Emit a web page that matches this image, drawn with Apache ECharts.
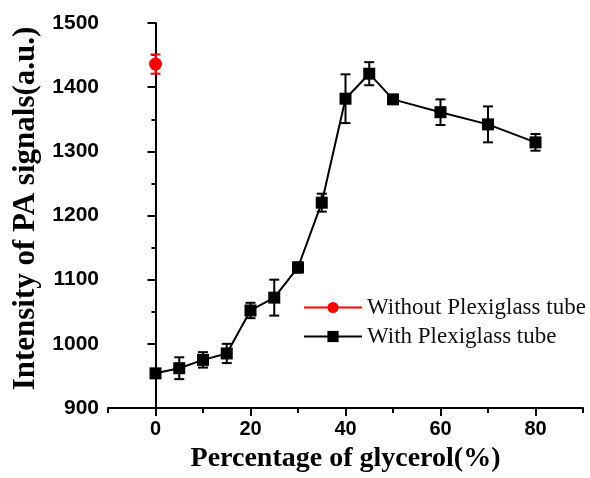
<!DOCTYPE html>
<html>
<head>
<meta charset="utf-8">
<script src="https://cdn.jsdelivr.net/npm/echarts@6/dist/echarts.min.js"></script>
<style>
  html, body { margin: 0; padding: 0; background: #fff; }
  #chart { width: 590px; height: 478px; }
</style>
</head>
<body>
<div id="chart"></div>
<script>
  // glycerol percentages
  const withX = [0, 5, 10, 15, 20, 25, 30, 35, 40, 45, 50, 60, 70, 80]
  const withY = [954, 962, 975, 985, 1052, 1072, 1119, 1220, 1382, 1421, 1381, 1361, 1342, 1314]
  const withErr = [5, 17, 12, 15, 12, 28, 8, 14, 38, 18, 6, 20, 28, 13]
  const withoutX = [0]
  const withoutY = [1436]
  const withoutErr = [15]
  const xLabels = [0, 20, 40, 60, 80]
  const xMinor = [-10, 10, 30, 50, 70, 90]

  const serif = '"Liberation Serif", "Times New Roman", serif'
  const sans = '"Liberation Sans", Arial, sans-serif'

  const pairs = (xs, ys) => xs.map((x, i) => [x, ys[i]])
  const bars = (xs, ys, es) => xs.map((x, i) => [x, ys[i] - es[i], ys[i] + es[i]])

  // 误差棒
  function errorBar (color) {
    return function (params, api) {
      const lo = api.coord([api.value(0), api.value(1)])
      const hi = api.coord([api.value(0), api.value(2)])
      const w = 5
      const style = { stroke: color, lineWidth: 2 }
      return {
        type: 'group',
        children: [
          { type: 'line', shape: { x1: lo[0], y1: lo[1], x2: hi[0], y2: hi[1] }, style },
          { type: 'line', shape: { x1: lo[0] - w, y1: lo[1], x2: lo[0] + w, y2: lo[1] }, style },
          { type: 'line', shape: { x1: hi[0] - w, y1: hi[1], x2: hi[0] + w, y2: hi[1] }, style }
        ]
      }
    }
  }

  const chart = echarts.init(document.getElementById('chart'))
  chart.setOption({
    animation: false,
    grid: { left: 108, right: 7, top: 23, bottom: 69 },
    legend: {
      orient: 'vertical',
      left: 298,
      top: 291,
      itemWidth: 58,
      itemHeight: 14,
      itemGap: 6,
      textStyle: { fontFamily: serif, fontSize: 23, color: '#111' },
      data: ['Without Plexiglass tube', 'With Plexiglass tube']
    },
    xAxis: [{
      type: 'value',
      min: -10,
      max: 90,
      interval: 10,
      name: 'Percentage of glycerol(%)',
      nameLocation: 'middle',
      nameGap: 37,
      nameTextStyle: { fontFamily: serif, fontSize: 28, fontWeight: 'bold', color: '#000' },
      axisLine: { lineStyle: { color: '#000', width: 2 } },
      axisTick: { inside: false, length: 8, customValues: xLabels, lineStyle: { width: 2 } },
      axisLabel: { customValues: xLabels, margin: 11, fontFamily: sans, fontSize: 20, fontWeight: 'bold', color: '#000' },
      splitLine: { show: false }
    }, {
      // minor ticks only
      type: 'value',
      position: 'bottom',
      min: -10,
      max: 90,
      interval: 10,
      axisLine: { show: false },
      axisTick: { length: 5, customValues: xMinor, lineStyle: { width: 2, color: '#000' } },
      axisLabel: { show: false },
      splitLine: { show: false }
    }],
    yAxis: {
      type: 'value',
      min: 900,
      max: 1500,
      interval: 100,
      name: 'Intensity of PA signals(a.u.)',
      nameLocation: 'middle',
      nameGap: 62,
      nameTextStyle: { fontFamily: serif, fontSize: 31, fontWeight: 'bold', color: '#000', padding: [0, 0, 0, 14] },
      axisLine: { lineStyle: { color: '#000', width: 2 } },
      axisTick: { length: 8, lineStyle: { width: 2 } },
      minorTick: { show: true, splitNumber: 2, length: 4, lineStyle: { width: 2, color: '#000' } },
      axisLabel: { margin: 9, fontFamily: sans, fontSize: 21, fontWeight: 'bold', color: '#000', formatter: v => String(v) },
      splitLine: { show: false }
    },
    series: [
      {
        name: 'Without Plexiglass tube',
        type: 'line',
        data: pairs(withoutX, withoutY),
        symbol: 'circle',
        symbolSize: 13,
        itemStyle: { color: '#ff0000' },
        lineStyle: { color: '#ff0000', width: 2 },
        z: 3
      },
      {
        name: 'With Plexiglass tube',
        type: 'line',
        data: pairs(withX, withY),
        symbol: 'rect',
        symbolSize: 12,
        itemStyle: { color: '#000' },
        lineStyle: { color: '#000', width: 2 },
        z: 3
      },
      {
        type: 'custom',
        data: bars(withoutX, withoutY, withoutErr),
        renderItem: errorBar('#ff0000'),
        z: 2
      },
      {
        type: 'custom',
        data: bars(withX, withY, withErr),
        renderItem: errorBar('#000'),
        z: 2
      }
    ]
  })
</script>
</body>
</html>
